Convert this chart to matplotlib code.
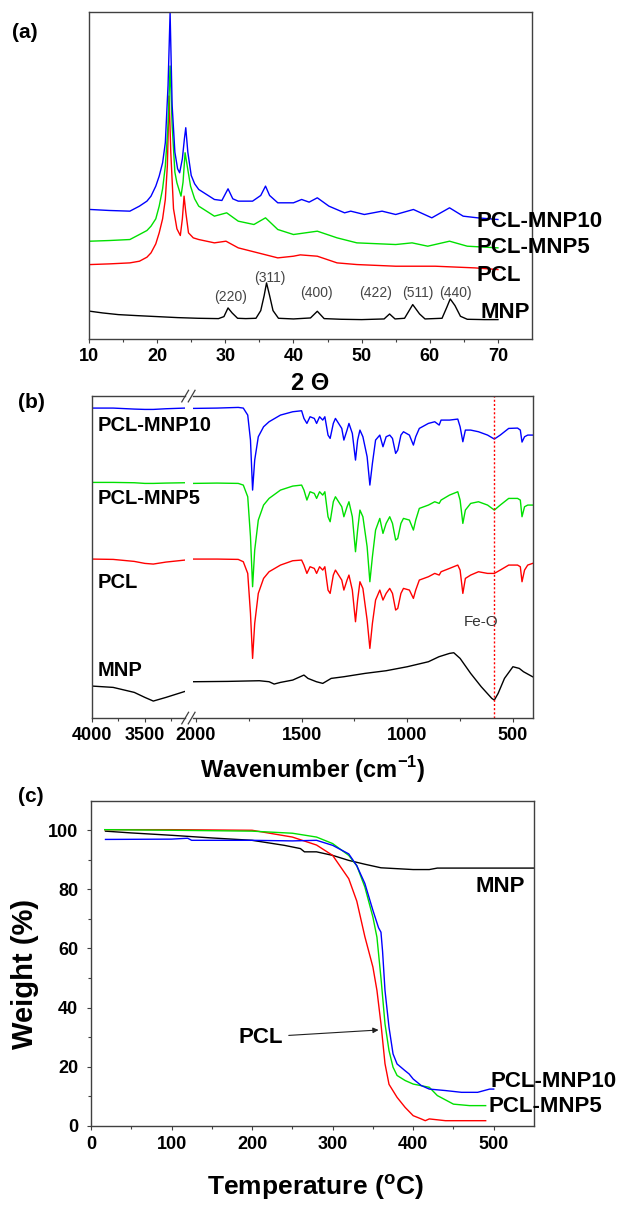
import matplotlib
matplotlib.use('Agg')
import matplotlib.pyplot as plt
from matplotlib.ticker import FixedLocator

plt.rcParams['font.family'] = ['Liberation Sans', 'DejaVu Sans']
plt.rcParams['font.weight'] = 'bold'
plt.rcParams['mathtext.fontset'] = 'custom'
plt.rcParams['mathtext.rm'] = 'Liberation Sans'
plt.rcParams['mathtext.bf'] = 'Liberation Sans:bold'

# ---------------- (a) XRD ----------------
mnp_2t = [10.2, 12, 14.3, 17, 20, 23, 26, 29.0, 29.8, 30.4, 31.0, 31.8, 33, 34.5, 35.2, 35.7, 36.05, 36.5,
          37.0, 37.8, 40, 42.5, 43.5, 44.5, 47, 50, 53.3, 54.1, 54.9, 56.3, 57.5, 58.5, 59.3, 61.8, 62.5,
          63.0, 63.7, 64.5, 65.5, 68, 70]
mnp_xrd = [83, 78, 73, 70, 67, 64, 62, 61, 67, 93, 78, 62, 61, 62, 85, 130, 168, 130, 85, 62, 60, 63, 83,
           61, 59, 58, 60, 75, 60, 62, 103, 75, 60, 62, 95, 120, 100, 68, 59, 58, 58]

pcl_2t = [10.2, 13, 16, 17.4, 18.5, 19.1, 19.8, 20.3, 20.8, 21.2, 21.5, 21.75, 22.0, 22.4, 22.9, 23.4, 23.7,
          23.95, 24.2, 24.6, 25.3, 26.1, 28.4, 30.1, 31.9, 34.8, 37.7, 40, 41, 43.5, 46.4, 49.3, 55, 60.8,
          66.6, 70]
pcl_xrd = [223, 225, 228, 233, 245, 258, 285, 318, 360, 418, 520, 728, 560, 390, 330, 310, 360, 428, 380,
           318, 303, 298, 288, 293, 273, 258, 243, 248, 252, 248, 228, 223, 218, 218, 213, 208]

mnp5_2t = [10.2, 13, 16, 17.4, 18.5, 19.1, 19.8, 20.3, 20.8, 21.2, 21.6, 21.9, 22.2, 22.6, 22.9, 23.5, 23.8,
           24.1, 24.4, 24.9, 25.5, 26.1, 28.4, 30.2, 31.9, 34.2, 35.9, 37.7, 40, 43.5, 46.4, 49.3, 55, 57.4,
           59.7, 62.9, 65.5, 70]
mnp5_xrd = [293, 295, 298, 313, 325, 338, 360, 398, 450, 518, 640, 818, 640, 500, 468, 428, 470, 558, 520,
            458, 420, 398, 368, 378, 353, 343, 363, 328, 313, 323, 303, 288, 283, 288, 278, 293, 278, 273]

mnp10_2t = [10.2, 13, 16, 17.4, 18.5, 19.1, 19.8, 20.3, 20.8, 21.2, 21.6, 21.9, 22.2, 22.6, 23.0, 23.3, 23.7,
            24.0, 24.2, 24.5, 25.0, 25.5, 26.1, 28.4, 29.5, 30.4, 31.1, 31.9, 34.0, 35.2, 35.9, 36.5, 37.7,
            40, 41.2, 42.3, 43.5, 45.2, 47.5, 48.4, 50.4, 53, 55, 57.6, 60.3, 62.9, 64.9, 67, 70]
mnp10_xrd = [388, 385, 383, 398, 413, 428, 458, 488, 528, 588, 760, 978, 700, 560, 510, 498, 540, 600, 633,
             560, 490, 465, 448, 418, 415, 450, 420, 413, 413, 430, 458, 430, 408, 408, 418, 410, 423, 398,
             378, 383, 373, 383, 373, 388, 363, 393, 368, 363, 358]

hkl_labels = ['(220)', '(311)', '(400)', '(422)', '(511)', '(440)']
hkl_2t = [30.7, 36.5, 43.3, 52.0, 58.2, 63.7]
hkl_y = [125, 183, 138, 138, 138, 138]

# ---------------- (b) FTIR ----------------
wn_left = [4000, 3800, 3600, 3500, 3420, 3300, 3120]
mnp10_ir_left = [94.6, 94.6, 94.3, 94.2, 94.2, 94.4, 94.6]
mnp5_ir_left = [72.3, 72.3, 72.2, 72.0, 72.0, 72.1, 72.2]
pcl_ir_left = [49.3, 49.2, 48.6, 48.0, 47.8, 48.4, 49.0]
mnp_ir_left = [11.2, 10.8, 9.3, 7.8, 6.7, 7.8, 9.6]

wn_right = [2014, 1900, 1800, 1776, 1755, 1742, 1732, 1722, 1705, 1680, 1654, 1600, 1542, 1500, 1489, 1475,
            1460, 1440, 1429, 1415, 1400, 1390, 1375, 1365, 1350, 1340, 1310, 1300, 1285, 1276, 1260, 1245,
            1235, 1224, 1210, 1190, 1177, 1165, 1150, 1130, 1115, 1100, 1083, 1070, 1055, 1045, 1030, 1018,
            990, 971, 960, 943, 900, 870, 849, 840, 800, 761, 750, 737, 725, 700, 663, 620, 588, 560, 520,
            478, 465, 457, 445, 430, 407]
mnp10_ir = [94.5, 94.6, 94.8, 94.6, 92.5, 85.0, 70.0, 79.0, 86.0, 89.0, 90.5, 92.5, 93.5, 93.8, 91.5, 90.0,
            92.0, 91.5, 90.0, 92.0, 91.0, 92.0, 86.5, 85.5, 90.0, 91.5, 88.5, 85.0, 88.0, 90.0, 87.0, 79.0,
            85.0, 88.0, 86.0, 80.0, 71.5, 78.0, 85.0, 86.5, 83.0, 86.0, 86.5, 85.5, 81.0, 82.0, 86.5, 87.5,
            86.5, 83.5, 86.0, 88.5, 90.0, 90.5, 89.5, 91.0, 91.0, 91.3, 89.0, 84.5, 88.0, 88.0, 87.5, 86.5,
            85.3, 86.5, 88.5, 88.6, 88.0, 84.4, 86.0, 86.5, 86.5]
mnp5_ir = [72.0, 72.1, 72.0, 71.5, 68.0, 56.0, 41.0, 52.0, 61.0, 65.5, 67.5, 70.0, 71.2, 71.5, 70.0, 67.0,
           69.5, 69.0, 67.5, 69.5, 68.5, 69.5, 62.0, 60.5, 66.5, 68.0, 65.0, 62.0, 65.0, 66.5, 62.0, 51.5,
           58.0, 64.0, 62.0, 53.0, 42.5, 50.0, 58.0, 61.5, 57.0, 60.0, 62.0, 60.0, 55.0, 55.5, 60.0, 61.5,
           61.0, 58.0, 61.0, 64.5, 65.5, 66.5, 66.0, 67.0, 68.5, 69.5, 67.0, 60.0, 64.0, 66.0, 66.5, 65.5,
           64.0, 65.5, 67.5, 67.5, 67.0, 62.0, 65.0, 65.5, 65.5]
pcl_ir = [49.3, 49.3, 49.2, 48.5, 45.0, 33.0, 19.5, 30.0, 39.0, 43.5, 45.5, 47.5, 48.8, 49.0, 47.5, 45.0,
          47.0, 46.5, 45.0, 47.0, 46.0, 47.0, 40.0, 39.0, 44.5, 46.0, 43.0, 40.0, 43.0, 44.5, 40.0, 30.5,
          37.0, 42.5, 40.5, 31.0, 22.5, 30.0, 37.0, 40.0, 37.0, 39.0, 40.5, 39.0, 34.0, 34.5, 39.0, 40.5,
          40.0, 37.5, 40.0, 43.0, 44.0, 45.0, 44.5, 45.5, 46.5, 47.5, 46.0, 39.0, 43.5, 44.5, 45.5, 45.0,
          45.0, 46.0, 47.5, 47.5, 47.0, 42.5, 46.0, 47.5, 48.0]

wn_mnp = [2014, 1850, 1700, 1654, 1630, 1600, 1542, 1489, 1470, 1430, 1400, 1360, 1300, 1200, 1100, 1000,
          900, 850, 800, 780, 750, 700, 650, 600, 588, 570, 540, 500, 470, 450, 407]
mnp_ir = [12.5, 12.6, 12.8, 12.5, 11.8, 12.3, 13.0, 14.5, 13.5, 12.5, 12.0, 13.5, 14.0, 15.0, 15.8, 17.0,
          18.5, 20.0, 21.0, 21.2, 19.5, 15.0, 11.0, 7.5, 7.0, 9.0, 13.5, 17.0, 16.5, 15.5, 14.0]
fe_o_wn = 588

# ---------------- (c) TGA ----------------
pcl_temp = [17, 50, 100, 150, 200, 250, 280, 300, 320, 330, 340, 350, 355, 360, 365, 370, 380, 390, 400, 410,
            415, 420, 440, 490]
pcl_wt = [100.2, 100.2, 100.2, 100.1, 100.0, 97.7, 95.0, 91.5, 83.6, 76.0, 64.0, 53.7, 45.8, 34.5, 21.0,
          14.0, 9.6, 6.2, 3.4, 2.3, 1.7, 2.3, 1.7, 1.7]
mnp5_temp = [17, 100, 200, 250, 280, 300, 320, 330, 340, 350, 355, 360, 365, 370, 375, 380, 390, 400, 420,
             430, 450, 470, 490]
mnp5_wt = [100.2, 100.0, 99.7, 99.0, 97.7, 95.5, 91.5, 88.0, 80.8, 70.6, 63.8, 50.0, 34.5, 25.4, 19.8, 17.0,
           15.3, 14.1, 13.0, 10.2, 7.3, 6.8, 6.8]
mnp10_temp = [18, 100, 120, 125, 200, 250, 280, 300, 320, 330, 340, 350, 357, 360, 362, 365, 370, 375, 380,
              390, 395, 400, 410, 420, 440, 460, 480, 495, 500]
mnp10_wt = [96.9, 97.0, 97.3, 96.6, 96.6, 96.4, 96.6, 94.9, 92.0, 88.0, 82.0, 72.9, 67.0, 65.5, 59.0, 45.8,
            33.3, 24.3, 20.9, 18.6, 17.5, 15.8, 13.6, 12.4, 11.9, 11.3, 11.3, 12.4, 12.4]
mnp_temp = [18, 50, 100, 150, 200, 240, 260, 265, 280, 300, 320, 340, 360, 380, 400, 420, 430, 550]
mnp_wt = [99.7, 99.1, 98.3, 97.4, 96.6, 94.9, 93.8, 92.7, 92.7, 91.5, 89.8, 88.5, 87.3, 87.0, 86.7, 86.7,
          87.2, 87.2]

BLUE, GREEN, RED, BLACK = '#0000ff', '#00e000', '#ff0000', '#000000'
LW = 1.0

fig = plt.figure(figsize=(6.21, 12.05), dpi=100)


def style_axes(ax):
    for s in ax.spines.values():
        s.set_linewidth(1.0)
        s.set_color('#404040')
    ax.tick_params(axis='both', which='major', direction='out', length=3.2, width=0.8,
                   labelsize=13, pad=3.5, color='#404040')
    ax.tick_params(axis='both', which='minor', direction='out', length=2.0, width=0.8, color='#404040')


# ---- panel (a)
ax_a = fig.add_axes([0.1433, 0.7187, 0.7134, 0.2714])
ax_a.plot(mnp_2t, mnp_xrd, color=BLACK, lw=LW)
ax_a.plot(pcl_2t, pcl_xrd, color=RED, lw=LW)
ax_a.plot(mnp5_2t, mnp5_xrd, color=GREEN, lw=LW)
ax_a.plot(mnp10_2t, mnp10_xrd, color=BLUE, lw=LW)
ax_a.set_xlim(10, 75)
ax_a.set_ylim(0, 980)
ax_a.set_yticks([])
ax_a.set_xticks([10, 20, 30, 40, 50, 60, 70])
ax_a.xaxis.set_minor_locator(FixedLocator([15, 25, 35, 45, 55, 65]))
style_axes(ax_a)
for lab, x, y in zip(hkl_labels, hkl_2t, hkl_y):
    ax_a.text(x, y, lab, ha='center', va='center', fontsize=10, fontweight='normal', color='#444444')
ax_a.text(66.9, 353, 'PCL-MNP10', fontsize=16, va='center', ha='left', clip_on=False)
ax_a.text(66.9, 273, 'PCL-MNP5', fontsize=16, va='center', ha='left', clip_on=False)
ax_a.text(66.9, 190, 'PCL', fontsize=16, va='center', ha='left', clip_on=False)
ax_a.text(67.5, 78, 'MNP', fontsize=16, va='center', ha='left', clip_on=False)
fig.text(310 / 621, 1 - 383 / 1205, '2 \u0398', fontsize=17, ha='center', va='center')
fig.text(12 / 621, 1 - 33 / 1205, '(a)', fontsize=15, ha='left', va='center')

# ---- panel (b), broken x axis
ax_bl = fig.add_axes([92 / 621, 0.4041, 93 / 621, 0.2672])
ax_br = fig.add_axes([193 / 621, 0.4041, 340 / 621, 0.2672])
ax_br.patch.set_alpha(0)
ax_bl.patch.set_alpha(0)
ax_bl.plot(wn_left, mnp10_ir_left, color=BLUE, lw=LW)
ax_bl.plot(wn_left, mnp5_ir_left, color=GREEN, lw=LW)
ax_bl.plot(wn_left, pcl_ir_left, color=RED, lw=LW)
ax_bl.plot(wn_left, mnp_ir_left, color=BLACK, lw=LW)
ax_br.plot(wn_right, mnp10_ir, color=BLUE, lw=LW)
ax_br.plot(wn_right, mnp5_ir, color=GREEN, lw=LW)
ax_br.plot(wn_right, pcl_ir, color=RED, lw=LW)
ax_br.plot(wn_mnp, mnp_ir, color=BLACK, lw=LW)
ax_br.axvline(fe_o_wn, color=RED, lw=1.0, ls=(0, (1.5, 1.5)))
for ax in (ax_bl, ax_br):
    ax.set_ylim(1.6, 98.2)
    ax.set_yticks([])
    style_axes(ax)
ax_bl.set_xlim(4000, 3120)
ax_br.set_xlim(2014, 405)
ax_bl.set_xticks([4000, 3500])
ax_bl.xaxis.set_minor_locator(FixedLocator([3750, 3250]))
ax_br.set_xticks([2000, 1500, 1000, 500])
ax_br.xaxis.set_minor_locator(FixedLocator([1750, 1250, 750]))
ax_bl.spines['right'].set_visible(False)
ax_br.spines['left'].set_visible(False)
# break marks "//" on top and bottom spines
for yb in (0, 1):
    for x0 in (-0.033, -0.014):
        ax_br.plot([x0, x0 + 0.02], [yb - 0.018, yb + 0.018], color='#404040', lw=0.9,
                   transform=ax_br.transAxes, clip_on=False)
ax_bl.text(3943, 89.5, 'PCL-MNP10', fontsize=14.5, va='center', ha='left', clip_on=False)
ax_bl.text(3943, 67.6, 'PCL-MNP5', fontsize=14.5, va='center', ha='left', clip_on=False)
ax_bl.text(3943, 42.4, 'PCL', fontsize=14.5, va='center', ha='left', clip_on=False)
ax_bl.text(3943, 16.0, 'MNP', fontsize=14.5, va='center', ha='left', clip_on=False)
ax_br.text(653, 30.5, 'Fe-O', fontsize=11, fontweight='normal', color='#333333', ha='center', va='center')
fig.text(313 / 621, 1 - 770 / 1205, r'Wavenumber (cm$^{\mathbf{-1}}$)', fontsize=17, ha='center',
         va='center')
fig.text(18 / 621, 1 - 403 / 1205, '(b)', fontsize=15, ha='left', va='center')

# ---- panel (c)
ax_c = fig.add_axes([91 / 621, 0.0658, 443 / 621, 0.2697])
ax_c.plot(mnp_temp, mnp_wt, color=BLACK, lw=LW)
ax_c.plot(pcl_temp, pcl_wt, color=RED, lw=LW)
ax_c.plot(mnp5_temp, mnp5_wt, color=GREEN, lw=LW)
ax_c.plot(mnp10_temp, mnp10_wt, color=BLUE, lw=LW)
ax_c.set_xlim(0, 550)
ax_c.set_ylim(0, 110)
ax_c.set_xticks([0, 100, 200, 300, 400, 500])
ax_c.set_yticks([0, 20, 40, 60, 80, 100])
ax_c.xaxis.set_minor_locator(FixedLocator([50, 150, 250, 350, 450]))
ax_c.yaxis.set_minor_locator(FixedLocator([10, 30, 50, 70, 90]))
style_axes(ax_c)
ax_c.tick_params(axis='y', which='major', pad=6)
ax_c.tick_params(axis='x', which='major', pad=4.5)
ax_c.text(508, 81, 'MNP', fontsize=16, ha='center', va='center')
ax_c.text(496, 15, 'PCL-MNP10', fontsize=16, ha='left', va='center', clip_on=False)
ax_c.text(494, 6.4, 'PCL-MNP5', fontsize=16, ha='left', va='center', clip_on=False)
ax_c.annotate('PCL', xy=(357, 32.4), xytext=(211, 30), fontsize=16, ha='center', va='center',
              arrowprops=dict(arrowstyle='-|>', color='#202020', lw=0.8, mutation_scale=8,
                              shrinkA=2, shrinkB=0))
fig.text(25 / 621, 1 - 974 / 1205, 'Weight (%)', fontsize=21, rotation=90, ha='center', va='center')
# kept fully inside the canvas (the reference crops its bottom edge)
fig.text(315 / 621, 1 - 1202 / 1205, r'Temperature ($^{\mathbf{o}}$C)', fontsize=19, ha='center',
         va='bottom')
fig.text(18 / 621, 1 - 797 / 1205, '(c)', fontsize=15, ha='left', va='center')

fig.savefig('out.png', dpi=100)
